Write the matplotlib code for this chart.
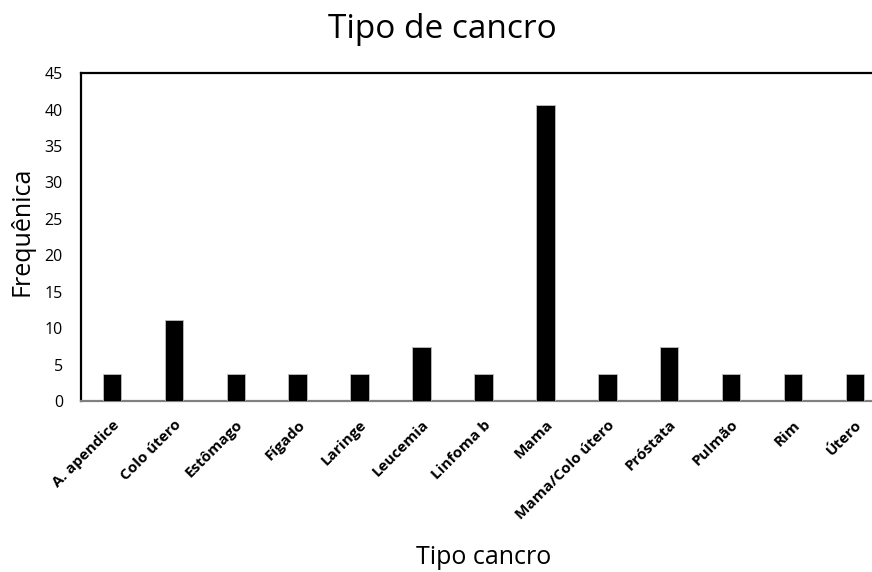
import matplotlib
matplotlib.use("Agg")
import matplotlib.pyplot as plt

categories = ["A. apendice", "Colo útero", "Estômago", "Fígado", "Laringe",
              "Leucemia", "Linfoma b", "Mama", "Mama/Colo útero", "Próstata",
              "Pulmão", "Rim", "Útero"]
frequencies = [3.7, 11.1, 3.7, 3.7, 3.7, 7.4, 3.7, 40.7, 3.7, 7.4, 3.7, 3.7, 3.7]
y_ticks = [0, 5, 10, 15, 20, 25, 30, 35, 40, 45]

plt.rcParams['font.family'] = ['Open Sans', 'DejaVu Sans']

fig = plt.figure(figsize=(8.72, 5.72), dpi=100)
ax = fig.add_axes([0.0929, 0.299, 0.923, 0.573])

x = list(range(len(categories)))
ax.bar(x, frequencies, width=0.3, color='black', edgecolor='#bfbfbf', linewidth=0.6, zorder=3)

ax.set_xlim(-0.5, len(categories) - 0.5)
ax.set_ylim(0, 45)
ax.set_yticks(y_ticks)
ax.set_yticklabels([str(v) for v in y_ticks], fontsize=11.5)
ax.set_xticks(x)
ax.set_xticklabels(categories, rotation=45, ha='right', rotation_mode='anchor',
                   fontsize=11, fontweight='bold')
ax.tick_params(axis='y', length=0, pad=13)
ax.tick_params(axis='x', length=0, pad=12)

for side in ['left', 'top', 'right']:
    ax.spines[side].set_color('black')
    ax.spines[side].set_linewidth(1.6)
ax.spines['bottom'].set_color('#808080')
ax.spines['bottom'].set_linewidth(1.6)

fig.text(0.025, 0.596, "Frequênica", fontsize=18, rotation=90, ha='center', va='center')
fig.text(0.555, 0.025, "Tipo cancro", fontsize=18, ha='center', va='center')
fig.text(0.507, 0.948, "Tipo de cancro", fontsize=24, ha='center', va='center')

fig.savefig("out.png", dpi=100)
